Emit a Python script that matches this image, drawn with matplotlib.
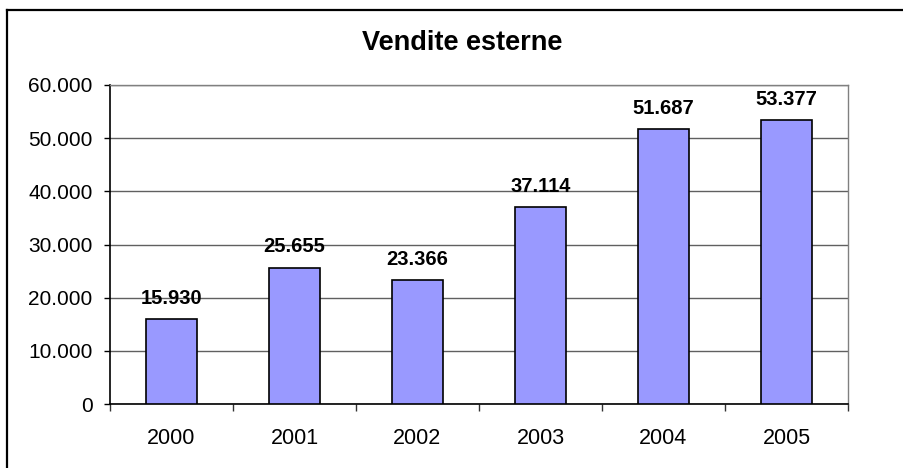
import matplotlib
matplotlib.use("Agg")
import matplotlib.pyplot as plt
from matplotlib.lines import Line2D

years = ["2000", "2001", "2002", "2003", "2004", "2005"]
sales = [15930, 25655, 23366, 37114, 51687, 53377]
yticks = [0, 10000, 20000, 30000, 40000, 50000, 60000]

def fmt(v):
    return f"{v:,}".replace(",", ".")

plt.rcParams['font.family'] = ['Liberation Sans', 'DejaVu Sans']

W, H = 904, 468
fig = plt.figure(figsize=(W / 100, H / 100), dpi=100)
ax = fig.add_axes([110 / W, 1 - 404 / H, (848 - 110) / W, (404 - 85) / H])

x = list(range(len(years)))
bars = ax.bar(x, sales, width=0.415, color="#9999FF", edgecolor="black",
              linewidth=1.2, zorder=3)

for xi, v in zip(x, sales):
    ax.annotate(fmt(v), (xi, v), xytext=(0, 8), textcoords="offset points",
                ha="center", va="bottom", fontsize=14.5, fontweight="bold")

ax.set_xlim(-0.5, len(years) - 0.5)
ax.set_ylim(0, 60000)
ax.set_yticks(yticks)
ax.set_yticklabels([fmt(t) if t else "0" for t in yticks], fontsize=15)
ax.set_xticks(x)
ax.set_xticklabels(years, fontsize=15.5)
ax.set_xticks([i - 0.5 for i in range(len(years) + 1)], minor=True)
ax.tick_params(axis="x", which="major", length=0, pad=17)
ax.tick_params(axis="x", which="minor", length=5, width=1, color="#333333", direction="out")
ax.tick_params(axis="y", length=4.5, width=1, color="black", direction="out", pad=8)

ax.yaxis.grid(True, color="#606060", linewidth=1, zorder=0)
ax.set_axisbelow(True)

for s in ["left", "bottom"]:
    ax.spines[s].set_color("black")
    ax.spines[s].set_linewidth(1.2)
for s in ["top", "right"]:
    ax.spines[s].set_color("#808080")
    ax.spines[s].set_linewidth(1.0)

fig.text(462 / W, 1 - 43 / H, "Vendite esterne", ha="center", va="center",
         fontsize=19.5, fontweight="bold")

# outer chart border (top and left edges visible)
fig.add_artist(Line2D([7 / W, 1.0], [1 - 10 / H, 1 - 10 / H], transform=fig.transFigure,
                      color="black", linewidth=1.6))
fig.add_artist(Line2D([7 / W, 7 / W], [0.0, 1 - 10 / H], transform=fig.transFigure,
                      color="black", linewidth=1.6))

fig.savefig("out.png", dpi=100, facecolor="white")
